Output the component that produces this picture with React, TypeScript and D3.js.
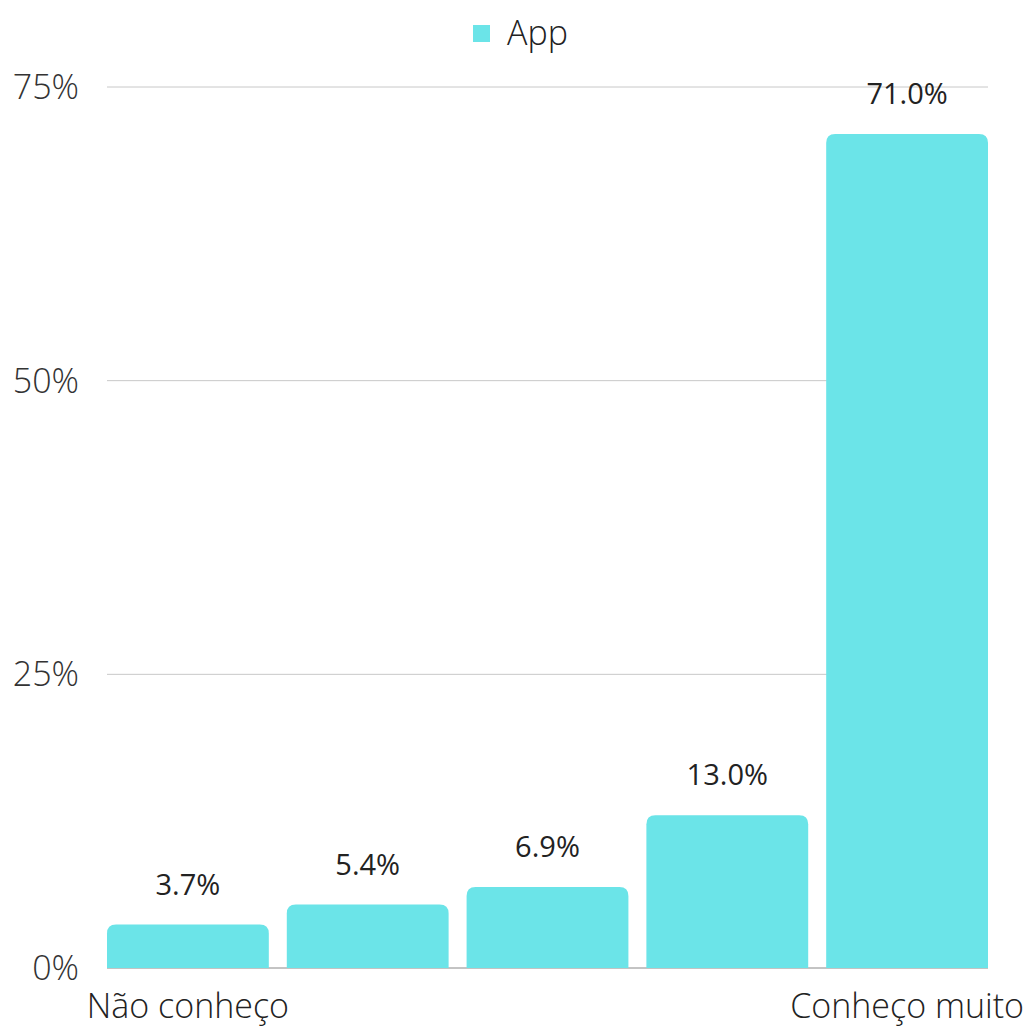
import React from "react";
import * as d3 from "d3";

const categories = ["Não conheço", "2", "3", "4", "Conheço muito"];
const categoryLabels = ["Não conheço", "", "", "", "Conheço muito"];
const values = [3.7, 5.4, 6.9, 13.0, 71.0];
const yTicks = [0, 25, 50, 75];
const seriesName = "App";

const W = 1034;
const H = 1035;
const margin = { left: 107, right: 46, top: 87, bottom: 67 };
const barColor = "#6BE4E8";
const font = "'Open Sans', sans-serif";

function topRoundedRect(x: number, y: number, w: number, h: number, r: number) {
  const rr = Math.min(r, h, w / 2);
  return `M${x},${y + h}V${y + rr}Q${x},${y} ${x + rr},${y}H${x + w - rr}Q${x + w},${y} ${x + w},${y + rr}V${y + h}Z`;
}

export default function App() {
  const x = d3
    .scaleBand<string>()
    .domain(categories)
    .range([margin.left, W - margin.right])
    .paddingInner(0.1)
    .paddingOuter(0);
  const y = d3.scaleLinear().domain([0, 75]).range([H - margin.bottom, margin.top]);

  return (
    <svg width={W} height={H} style={{ position: "absolute", left: 0, top: 0 }}>
      <rect width={W} height={H} fill="#fff" />
      {/* legend */}
      <rect x={473} y={25} width={17} height={17} fill={barColor} />
      <text x={507} y={45} fontFamily={font} fontWeight={300} fontSize={34} fill="#222">
        {seriesName}
      </text>
      {/* gridlines */}
      {yTicks.map((t) => (
        <g key={t}>
          <line
            x1={margin.left}
            x2={W - margin.right}
            y1={y(t)}
            y2={y(t)}
            stroke={t === 0 ? "#888" : "#c8c8c8"}
            strokeWidth={1}
          />
          <text
            x={79}
            y={y(t)}
            dy={12}
            textAnchor="end"
            fontFamily={font}
            fontWeight={300}
            fontSize={34}
            fill="#333"
          >
            {t}%
          </text>
        </g>
      ))}
      {/* bars */}
      {categories.map((c, i) => {
        const bx = x(c)!;
        const by = y(values[i]);
        const bh = y(0) - by;
        return (
          <g key={c}>
            <path d={topRoundedRect(bx, by, x.bandwidth(), bh, 9)} fill={barColor} />
            <text
              x={bx + x.bandwidth() / 2}
              y={by - 30}
              textAnchor="middle"
              fontFamily={font}
              fontSize={29}
              fill="#222"
            >
              {values[i].toFixed(1)}%
            </text>
            <text
              x={bx + x.bandwidth() / 2}
              y={1018}
              textAnchor="middle"
              fontFamily={font}
              fontWeight={300}
              fontSize={34}
              fill="#222"
            >
              {categoryLabels[i]}
            </text>
          </g>
        );
      })}
    </svg>
  );
}
